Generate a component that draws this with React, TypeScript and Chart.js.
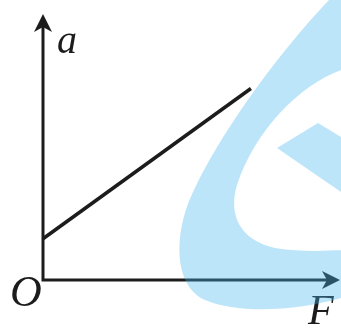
import React, { useEffect, useRef } from "react";
import { Chart, registerables } from "chart.js";

Chart.register(...registerables);

// Data: acceleration a vs force F (straight line with positive intercept)
const forceValues = [0, 7];
const accelValues = [1.55, 7.2];
const xAxisLabel = "F";
const yAxisLabel = "a";
const originLabel = "O";
const axisRange = [0, 10];

const INK = "#1c1c1c";

const axesPlugin = {
  id: "physicsAxes",
  beforeDatasetsDraw(chart: any) {
    const { ctx, scales } = chart;
    const xs = scales.x;
    const ys = scales.y;
    const ox = xs.getPixelForValue(axisRange[0]);
    const oy = ys.getPixelForValue(axisRange[0]);
    const xEnd = xs.getPixelForValue(axisRange[1]);
    const yEnd = ys.getPixelForValue(axisRange[1]);
    const len = 18;
    const half = 9;
    const notch = 5;
    ctx.save();
    ctx.strokeStyle = INK;
    ctx.fillStyle = INK;
    ctx.lineWidth = 3;
    ctx.lineJoin = "miter";
    ctx.lineCap = "butt";
    ctx.beginPath();
    ctx.moveTo(ox, yEnd + len - notch);
    ctx.lineTo(ox, oy);
    ctx.lineTo(xEnd - len + notch, oy);
    ctx.stroke();
    // y arrow
    ctx.beginPath();
    ctx.moveTo(ox, yEnd);
    ctx.lineTo(ox - half, yEnd + len);
    ctx.lineTo(ox, yEnd + len - notch);
    ctx.lineTo(ox + half, yEnd + len);
    ctx.closePath();
    ctx.fill();
    // x arrow
    ctx.beginPath();
    ctx.moveTo(xEnd, oy);
    ctx.lineTo(xEnd - len, oy - half);
    ctx.lineTo(xEnd - len + notch, oy);
    ctx.lineTo(xEnd - len, oy + half);
    ctx.closePath();
    ctx.fill();
    ctx.restore();
  },
  afterDraw(chart: any) {
    const { ctx, scales } = chart;
    const ox = scales.x.getPixelForValue(axisRange[0]);
    const oy = scales.y.getPixelForValue(axisRange[0]);
    const xEnd = scales.x.getPixelForValue(axisRange[1]);
    const yEnd = scales.y.getPixelForValue(axisRange[1]);
    ctx.save();
    ctx.fillStyle = INK;
    ctx.textBaseline = "alphabetic";
    ctx.textAlign = "left";
    ctx.font = "italic 40px 'Liberation Serif'";
    ctx.fillText(yAxisLabel, ox + 14, yEnd + 39);
    ctx.font = "italic 44px 'Liberation Serif'";
    ctx.fillText(originLabel, ox - 33, oy + 26);
    ctx.font = "italic 42px 'Liberation Serif'";
    ctx.fillText(xAxisLabel, xEnd - 32, oy + 44);

    // light blue watermark
    ctx.globalAlpha = 0.36;
    ctx.fillStyle = "rgb(70,182,238)";
    ctx.beginPath();
    ctx.moveTo(329, 0);
    ctx.lineTo(341, 0);
    ctx.lineTo(341, 298);
    ctx.bezierCurveTo(300, 310, 240, 315, 205, 300);
    ctx.bezierCurveTo(172, 285, 174, 230, 194, 190);
    ctx.bezierCurveTo(217, 140, 272, 60, 329, 0);
    ctx.closePath();
    ctx.moveTo(341, 70);
    ctx.bezierCurveTo(300, 85, 255, 130, 237, 185);
    ctx.bezierCurveTo(228, 215, 240, 240, 275, 248);
    ctx.bezierCurveTo(300, 252, 325, 251, 341, 250);
    ctx.closePath();
    ctx.fill("evenodd");
    ctx.beginPath();
    ctx.moveTo(277, 148);
    ctx.lineTo(318, 123);
    ctx.lineTo(341, 137);
    ctx.lineTo(341, 192);
    ctx.closePath();
    ctx.fill();
    ctx.restore();
  },
};

export default function App() {
  const canvasRef = useRef<HTMLCanvasElement | null>(null);

  useEffect(() => {
    if (!canvasRef.current) return;
    const chart = new Chart(canvasRef.current, {
      type: "line",
      data: {
        datasets: [
          {
            data: forceValues.map((f, i) => ({ x: f, y: accelValues[i] })),
            borderColor: INK,
            borderWidth: 3.5,
            pointRadius: 0,
            borderCapStyle: "butt",
            tension: 0,
          },
        ],
      },
      options: {
        responsive: false,
        animation: false,
        layout: { padding: { left: 43, right: 1, top: 14, bottom: 48 } },
        plugins: { legend: { display: false }, tooltip: { enabled: false } },
        scales: {
          x: { type: "linear", min: axisRange[0], max: axisRange[1], display: false },
          y: { type: "linear", min: axisRange[0], max: axisRange[1], display: false },
        },
      },
      plugins: [axesPlugin],
    });
    return () => chart.destroy();
  }, []);

  return (
    <div style={{ position: "absolute", left: 0, top: 0, width: 341, height: 328, background: "#fff" }}>
      <canvas ref={canvasRef} width={341} height={328} />
    </div>
  );
}
